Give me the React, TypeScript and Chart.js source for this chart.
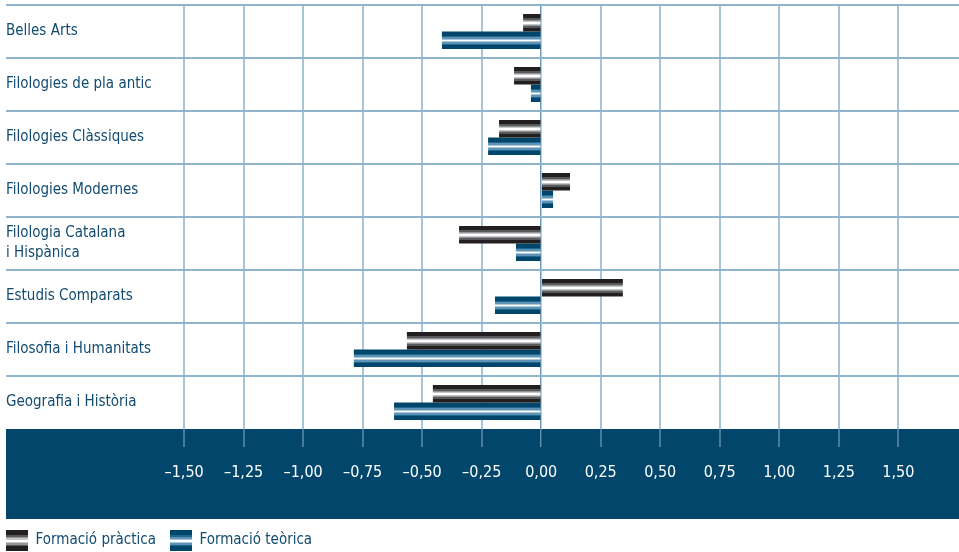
import React, { useEffect, useRef } from 'react';
import { Chart, registerables } from 'chart.js';

Chart.register(...registerables);

// ---------- data ----------
const categories: (string | string[])[] = [
  'Belles Arts',
  'Filologies de pla antic',
  'Filologies Clàssiques',
  'Filologies Modernes',
  ['Filologia Catalana', 'i Hispànica'],
  'Estudis Comparats',
  'Filosofia i Humanitats',
  'Geografia i Història',
];
const formacioPractica = [-0.076, -0.114, -0.177, 0.121, -0.345, 0.343, -0.564, -0.455];
const formacioTeorica = [-0.417, -0.043, -0.223, 0.05, -0.106, -0.194, -0.787, -0.618];
const seriesNames = ['Formació pràctica', 'Formació teòrica'];
const tickValues = [-1.5, -1.25, -1, -0.75, -0.5, -0.25, 0, 0.25, 0.5, 0.75, 1, 1.25, 1.5];

// ---------- styles ----------
const FONT = "'DejaVu Sans Condensed', 'Liberation Sans Narrow', 'Roboto', sans-serif";
const TEXT_BLUE = '#124b70';
const BAND = '#02466b';
const CAT_PCT = 0.66;

type Stripe = [string, number, number];
const GREY_STRIPES: Stripe[] = [
  ['#231f20', 0, 0.22],
  ['#58595b', 0.22, 0.32],
  ['#939598', 0.32, 0.4],
  ['#c7c8ca', 0.4, 0.46],
  ['#ffffff', 0.46, 0.56],
  ['#c7c8ca', 0.56, 0.62],
  ['#939598', 0.62, 0.7],
  ['#58595b', 0.7, 0.78],
  ['#231f20', 0.78, 1],
];
const BLUE_STRIPES: Stripe[] = [
  ['#00466a', 0, 0.24],
  ['#1f6790', 0.24, 0.33],
  ['#5f93b5', 0.33, 0.41],
  ['#a9c8dc', 0.41, 0.47],
  ['#ffffff', 0.47, 0.55],
  ['#a9c8dc', 0.55, 0.62],
  ['#5f93b5', 0.62, 0.7],
  ['#1f6790', 0.7, 0.77],
  ['#00466a', 0.77, 1],
];

function addStops(g: CanvasGradient, stripes: Stripe[]) {
  stripes.forEach(([c, a, b]) => {
    g.addColorStop(a, c);
    g.addColorStop(b, c);
  });
}

function barFill(stripes: Stripe[], first: boolean) {
  return (c: any) => {
    const chart = c.chart;
    const ys = chart.scales && chart.scales.y;
    if (!ys || c.type !== 'data') return stripes[0][0];
    const rowH = ys.height / categories.length;
    const half = (rowH * CAT_PCT) / 2;
    const center = ys.getPixelForValue(c.dataIndex);
    if (!Number.isFinite(center) || !Number.isFinite(half) || half <= 0) return stripes[0][0];
    const top = first ? center - half : center;
    const g = chart.ctx.createLinearGradient(0, top, 0, top + half);
    addStops(g, stripes);
    return g;
  };
}

function legendSwatch(stripes: Stripe[]) {
  const cv = document.createElement('canvas');
  cv.width = 22;
  cv.height = 21;
  const ctx = cv.getContext('2d')!;
  const g = ctx.createLinearGradient(0, 0, 0, 21);
  addStops(g, stripes);
  ctx.fillStyle = g;
  ctx.fillRect(0, 0, 22, 21);
  return cv;
}

const bandPlugin = {
  id: 'band',
  beforeDraw(chart: any) {
    const { ctx, chartArea, scales } = chart;
    const x = scales.x;
    ctx.save();
    ctx.fillStyle = BAND;
    ctx.fillRect(chartArea.left, chartArea.bottom, chartArea.right - chartArea.left, x.bottom - chartArea.bottom);
    ctx.restore();
  },
};

export default function App() {
  const ref = useRef<HTMLCanvasElement>(null);

  useEffect(() => {
    if (!ref.current) return;
    const swatches = [legendSwatch(GREY_STRIPES), legendSwatch(BLUE_STRIPES)];
    const chart = new Chart(ref.current, {
      type: 'bar',
      data: {
        labels: categories as any,
        datasets: [
          {
            label: seriesNames[0],
            data: formacioPractica,
            backgroundColor: barFill(GREY_STRIPES, true) as any,
            borderWidth: 0,
            barPercentage: 1,
            categoryPercentage: CAT_PCT,
          },
          {
            label: seriesNames[1],
            data: formacioTeorica,
            backgroundColor: barFill(BLUE_STRIPES, false) as any,
            borderWidth: 0,
            barPercentage: 1,
            categoryPercentage: CAT_PCT,
          },
        ],
      },
      options: {
        indexAxis: 'y',
        animation: false,
        responsive: true,
        maintainAspectRatio: false,
        layout: { padding: { top: 5, left: -8, right: 0, bottom: -6 } },
        plugins: {
          tooltip: { enabled: false },
          legend: {
            position: 'bottom',
            align: 'start',
            labels: {
              usePointStyle: true,
              pointStyleWidth: 22,
              padding: 14,
              color: TEXT_BLUE,
              font: { family: FONT, size: 15 },
              generateLabels: (ch: any) =>
                ch.data.datasets.map((d: any, i: number) => ({
                  text: d.label,
                  pointStyle: swatches[i],
                  fillStyle: 'transparent',
                  strokeStyle: 'transparent',
                  lineWidth: 0,
                  hidden: !ch.isDatasetVisible(i),
                  datasetIndex: i,
                  fontColor: TEXT_BLUE,
                })),
            },
          },
        },
        scales: {
          x: {
            type: 'linear',
            min: -2.248,
            max: 1.755,
            afterBuildTicks: (scale: any) => {
              scale.ticks = tickValues.map((v) => ({ value: v }));
            },
            afterFit: (scale: any) => {
              scale.height = 90;
            },
            border: { display: false },
            grid: {
              color: (c: any) => (c.tick && c.tick.value === 0 ? '#6d9aba' : '#a6c5d9'),
              lineWidth: (c: any) => (c.tick && c.tick.value === 0 ? 1.5 : 2),
              drawTicks: true,
              tickLength: 18,
              tickColor: '#86afca',
              tickWidth: 1,
            },
            ticks: {
              autoSkip: false,
              maxRotation: 0,
              padding: 16,
              color: '#ffffff',
              font: { family: FONT, size: 16 },
              callback: (v: any) => {
                const n = Number(v);
                return (n < 0 ? '–' : '') + Math.abs(n).toFixed(2).replace('.', ',');
              },
            },
          },
          y: {
            type: 'category',
            offset: true,
            afterFit: (scale: any) => {
              scale.width = 14;
              scale.paddingTop = 0;
              scale.paddingBottom = 0;
            },
            border: { display: false },
            grid: {
              offset: true,
              drawTicks: false,
              color: (c: any) => (c.tick ? '#8fb4cc' : 'rgba(0,0,0,0)'),
              lineWidth: 2,
            },
            ticks: {
              mirror: true,
              padding: 0,
              autoSkip: false,
              color: TEXT_BLUE,
              font: { family: FONT, size: 15, lineHeight: 1.33 },
            },
          },
        },
      },
      plugins: [bandPlugin],
    });
    return () => chart.destroy();
  }, []);

  return (
    <div style={{ position: 'absolute', left: 0, top: 0, width: 959, height: 552 }}>
      <canvas ref={ref} />
    </div>
  );
}
